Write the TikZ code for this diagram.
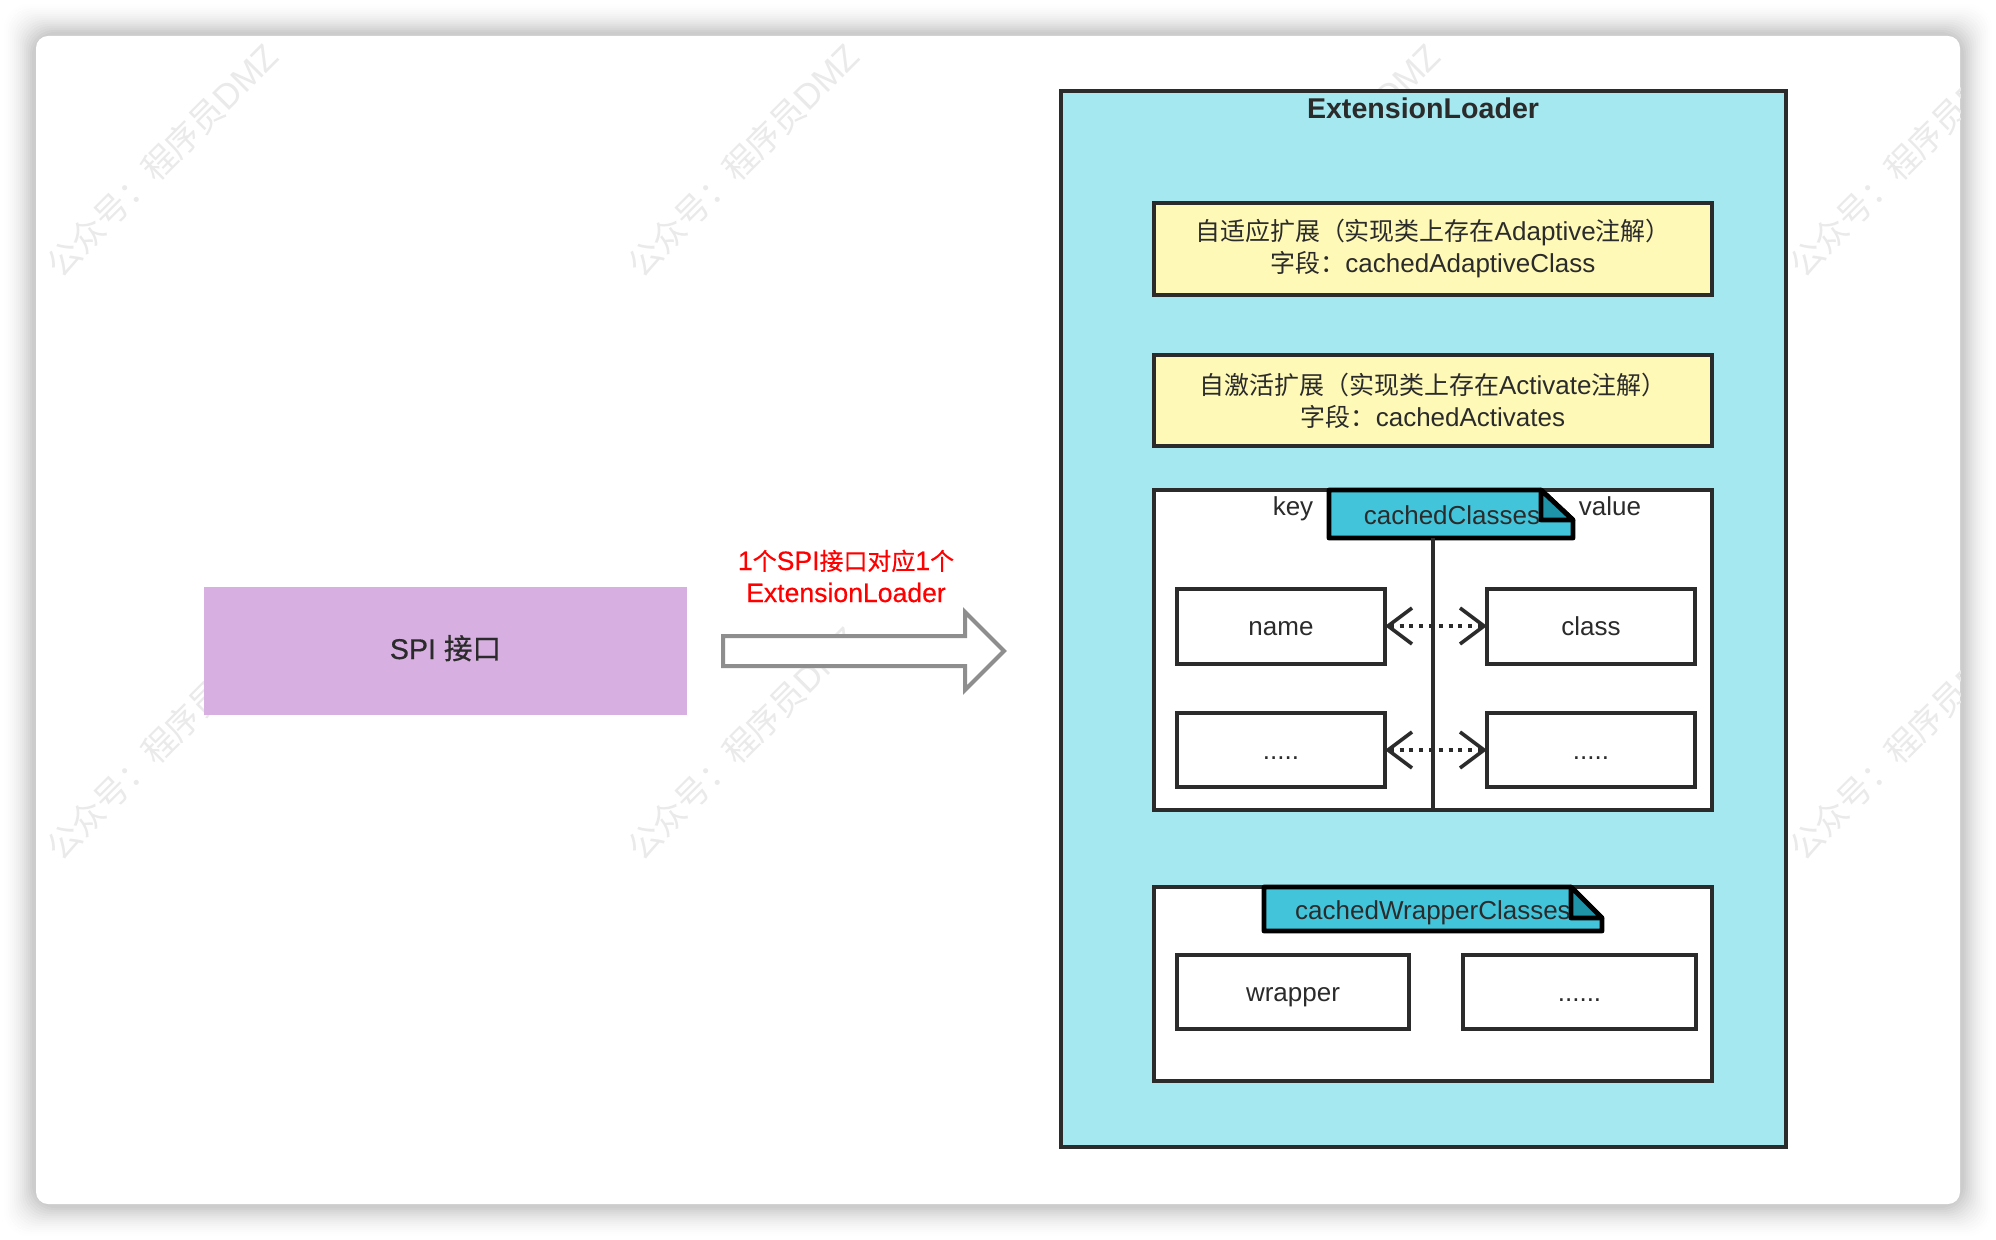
\documentclass[tikz,border=0pt]{standalone}
\usepackage{fontspec}
\setmainfont{Liberation Sans}
\newfontfamily\cjk[Scale=0.96]{Noto Sans CJK SC}
\newfontfamily\redfont[FakeBold=0.35]{Liberation Sans}
\newfontfamily\redcjk[Scale=0.9, FakeBold=0.35]{Noto Sans CJK SC}
\newfontfamily\spifont[FakeBold=0.5]{Liberation Sans}
\newfontfamily\spicjk[FakeBold=0.5]{Noto Sans CJK SC}
\usetikzlibrary{arrows.meta}
\usetikzlibrary{shapes.arrows}
\definecolor{inkdark}{HTML}{2B2B2B}
\definecolor{loadercyan}{HTML}{A5E8F0}
\definecolor{fieldyellow}{HTML}{FEF9B7}
\definecolor{spipurple}{HTML}{D7AFE1}
\definecolor{notecyan}{HTML}{42C5DB}
\definecolor{notefold}{HTML}{1F93A8}
\definecolor{arrowgrey}{HTML}{8E8E8E}
\definecolor{markgrey}{HTML}{EAEAEA}
\tikzset{
    textsize/.style = {font=\fontsize{13}{16}\selectfont, text=inkdark, align=center, execute at begin node={\lineskiplimit=-20pt\relax}},
    oneline/.style = {textsize, text height=10pt, text depth=0.5pt},
    boxsize/.style 2 args = {minimum width=#1*0.5pt, minimum height=#2*0.5pt, inner sep=0pt, outer sep=0pt},
    loaderbox/.style = {draw=inkdark, line width=2pt, fill=loadercyan},
    fieldbox/.style = {draw=inkdark, line width=2pt, fill=fieldyellow, textsize},
    groupbox/.style = {draw=inkdark, line width=1.7pt, fill=white},
    itembox/.style = {draw=inkdark, line width=2pt, fill=white, oneline},
    noteline/.style = {draw=black, line width=2.4pt, line join=round},
    mapline/.style = {draw=inkdark, line width=1.8pt, dash pattern=on 2pt off 2.9pt,
        {Straight Barb[length=12pt, width=18pt, line width=1.8pt]}-{Straight Barb[length=12pt, width=18pt, line width=1.8pt]}},
    watermark/.style = {font=\fontsize{17.5}{18}\selectfont, text=markgrey, rotate=45, inner sep=0pt}
}
\newcommand{\drawnote}[2]{
    \draw [noteline, fill=notecyan] (#1.south west) -- (#1.north west) -- (#2top) -- (#1.east |- #2in) -- (#1.south east) -- cycle;
    \draw [noteline, fill=notefold] (#2top) -- (#1.east |- #2in) -- (#2in) -- cycle;
}
\begin{document}
\begin{tikzpicture}[x=0.5pt, y=-0.5pt]
    \useasboundingbox (0, 0) rectangle (1996, 1240);
    \fill [white] (0, 0) rectangle (1996, 1240);
    \foreach \k in {1,...,16}
        \fill [black, opacity={0.0015*\k}, rounded corners=12pt] (2*\k, 2*\k) rectangle (1996-2*\k, 1240-2*\k);
    \fill [white, rounded corners=6pt] (36, 36) rectangle (1960, 1204);
    \begin{scope}
        \clip [rounded corners=6pt] (36, 36) rectangle (1960, 1204);
        \foreach \i/\mx in {1/162, 2/743, 3/1324, 4/1905}
            \foreach \j/\my in {1/160, 2/743}
                \node [watermark] (mark\i\j) at (\mx, \my) {{\cjk 公众号：程序员}DMZ};
    \end{scope}

    \node [boxsize={483}{128}, fill=spipurple, font=\spifont\fontsize{14.3}{16}\selectfont, text=inkdark, text height=11pt, text depth=3pt] (spi) at (445.5, 651) {SPI {\spicjk 接口}};
    \node [single arrow, draw=arrowgrey, fill=white, line width=2pt, minimum height=140.5pt, minimum width=37pt,
        single arrow head extend=12pt, inner sep=6.5pt, outer sep=0pt] (maparrow) at (856, 651) {};
    \node [textsize, font=\redfont\fontsize{13.3}{16}\selectfont, text=red] (maplabel) at (846, 576) {1{\redcjk 个}SPI{\redcjk 接口对应}1{\redcjk 个}\\ExtensionLoader};

    \node [loaderbox, boxsize={725}{1056}] (loader) at (1423.5, 619) {};
    \node [font=\fontsize{14.3}{16}\bfseries, text=inkdark] (loadertitle) at (1423, 108) {ExtensionLoader};

    \node [fieldbox, boxsize={558}{92}] (adaptive) at (1433, 249) {{\cjk 自适应扩展（实现类上存在}Adaptive{\cjk 注解）}\\{\cjk 字段：}cachedAdaptiveClass};
    \node [fieldbox, boxsize={558}{91}] (activate) at (1433, 400.5) {{\cjk 自激活扩展（实现类上存在}Activate{\cjk 注解）}\\{\cjk 字段：}cachedActivates};

    \node [groupbox, boxsize={558}{320}] (classes) at (1433, 650) {};
    \node [boxsize={244}{48}] (classesnote) at (1451, 514) {};
    \coordinate (classesfoldtop) at (1541, 490);
    \coordinate (classesfoldin) at (1541, 520);
    \drawnote{classesnote}{classesfold}
    \node [oneline] (classesname) at (1452, 514.5) {cachedClasses};
    \node [oneline] (keylabel) at (1293, 506.5) {key};
    \node [oneline] (valuelabel) at (1610, 506.5) {value};
    \coordinate (divider) at (1433, 538);
    \draw [draw=inkdark, line width=1.7pt] (divider) -- (divider |- classes.south);

    \node [itembox, boxsize={208}{75}] (namekey) at (1281, 626) {name};
    \node [itembox, boxsize={208}{75}] (classvalue) at (1591, 626) {class};
    \node [itembox, boxsize={208}{74}] (morekey) at (1281, 750) {.....};
    \node [itembox, boxsize={208}{74}] (morevalue) at (1591, 750) {.....};
    \draw [mapline] (namekey) -- (classvalue);
    \draw [mapline] (morekey) -- (morevalue);

    \node [groupbox, boxsize={558}{194}] (wrappers) at (1433, 984) {};
    \node [boxsize={338}{44}] (wrappersnote) at (1433, 909) {};
    \coordinate (wrappersfoldtop) at (1571, 887);
    \coordinate (wrappersfoldin) at (1571, 918);
    \drawnote{wrappersnote}{wrappersfold}
    \node [oneline] (wrappersname) at (1433, 909.5) {cachedWrapperClasses};

    \node [itembox, boxsize={232}{74}] (wrapperitem) at (1293, 992) {wrapper};
    \node [itembox, boxsize={233}{74}] (moreitem) at (1579.5, 992) {......};
\end{tikzpicture}
\end{document}
